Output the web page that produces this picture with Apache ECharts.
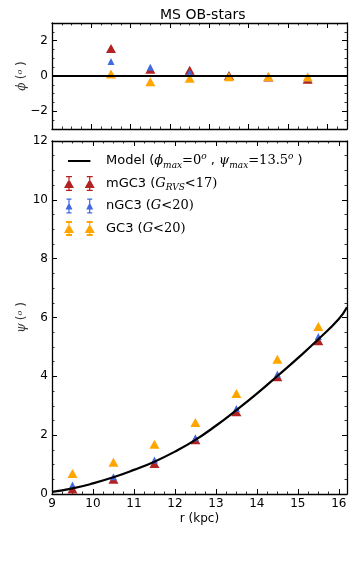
<!DOCTYPE html>
<html lang="en">
<head>
  <meta charset="UTF-8">
  <title>MS OB-stars</title>
  <script src="https://cdn.jsdelivr.net/npm/echarts@6/dist/echarts.min.js"></script>
</head>
<body style="margin:0;background:#fff;">
  <div id="main" style="width:354px;height:567px;"></div>
<script>
  // top panel: phi vs r
  var rPhi = [10.5, 11.5, 12.5, 13.5, 14.5, 15.5];
  var phiM = [1.55, 0.38, 0.33, 0.03, -0.05, -0.18];
  var phiN = [0.82, 0.50, 0.20, 0.02, -0.03, -0.12];
  var phiG = [0.11, -0.32, -0.13, -0.04, -0.03, -0.06];
  var modelPhiR = [9, 16.5];
  var modelPhi = [0, 0];

  // bottom panel: psi vs r
  var rPsi = [9.5, 10.5, 11.5, 12.5, 13.5, 14.5, 15.5];
  var psiM = [0.17, 0.50, 1.04, 1.84, 2.80, 3.99, 5.21];
  var psiN = [0.31, 0.59, 1.16, 1.91, 2.91, 4.08, 5.35];
  var psiG = [0.70, 1.08, 1.69, 2.43, 3.42, 4.58, 5.69];
  var modelR = [9, 9.5, 10, 10.5, 11, 11.5, 12, 12.5, 13, 13.5, 14, 14.5, 15, 15.5, 16, 16.2];
  var modelPsi = [0.07, 0.19, 0.36, 0.57, 0.82, 1.10, 1.44, 1.84, 2.32, 2.85, 3.41, 4.01, 4.62, 5.26, 5.95, 6.35];

  var RED = '#b22222', BLUE = '#4169e1', ORANGE = '#ffa500';

  var myChart = echarts.init(document.getElementById('main'));

  function pairs(xs, ys) {
    return xs.map(function (x, i) { return [x, ys[i]]; });
  }
  function steps(a, b, s) {
    var out = [];
    for (var v = a; v <= b + 1e-9; v += s) out.push(+v.toFixed(4));
    return out;
  }

  // one axis with long ticks (+ labels) and one overlay with short minor ticks
  function axes(grid, min, max, major, minor, pos, labels, extra) {
    var base = { type: 'value', gridIndex: grid, min: min, max: max, position: pos, splitLine: { show: false } };
    var main = Object.assign({}, base, {
      axisLine: { show: true, onZero: false, lineStyle: { color: '#000', width: 1.3 } },
      axisTick: { show: true, inside: true, length: 5, customValues: major, lineStyle: { color: '#000', width: 1 } },
      axisLabel: labels ? {
        show: true, customValues: major, color: '#000', fontSize: 12, fontFamily: 'DejaVu Sans', margin: 4,
        formatter: function (v) { return String(v).replace('-', '\u2212'); }
      } : { show: false }
    }, extra || {});
    var mnr = Object.assign({}, base, {
      axisLine: { show: false, onZero: false },
      axisTick: { show: true, inside: true, length: 2.5, customValues: minor, lineStyle: { color: '#000', width: 0.8 } },
      axisLabel: { show: false }
    });
    return [main, mnr];
  }

  var mathRich = {
    i: { fontFamily: 'DejaVu Serif', fontStyle: 'italic', fontSize: 12, color: '#333' },
    s: { fontFamily: 'DejaVu Serif', fontStyle: 'italic', fontSize: 8, color: '#333', verticalAlign: 'top' },
    n: { fontFamily: 'DejaVu Sans', fontSize: 12, color: '#333' }
  };

  // legend icons: anchors at (0,0) and (37,15) keep the scale 1:1
  var ANCH = 'M0 0 L0 0 Z M37 15 L37 15 Z ';
  function rect(x1, y1, x2, y2) {
    return 'M' + x1 + ' ' + y1 + ' H' + x2 + ' V' + y2 + ' H' + x1 + ' Z ';
  }
  function tri(cx, w, h) {
    return 'M' + (cx - w / 2) + ' ' + (7.5 + h / 2) + ' L' + cx + ' ' + (7.5 - h / 2) + ' L' + (cx + w / 2) + ' ' + (7.5 + h / 2) + ' Z ';
  }
  function errIcon(w, h, cap, capT) {
    var p = ANCH;
    [5, 25.7].forEach(function (cx) {
      p += rect(cx - 0.6, 0.5, cx + 0.6, 14.5);
      p += rect(cx - cap / 2, 0, cx + cap / 2, capT);
      p += rect(cx - cap / 2, 15 - capT, cx + cap / 2, 15);
      p += tri(cx, w, h);
    });
    return 'path://' + p;
  }

  var legendText = {
    Model: '{n|Model (}{i|\u03d5}{sb|max}{m|=0}{sp|o}{n| , }{i|\u03c8}{sb|max}{m|=13.5}{sp|o}{n| )}',
    mGC3: '{n|mGC3 (}{i|G}{sb|RVS}{m|<17)}',
    nGC3: '{n|nGC3 (}{i|G}{m|<20)}',
    GC3: '{n|GC3 (}{i|G}{m|<20)}'
  };

  var xAxes = [].concat(
    axes(0, 9, 16.5, steps(9, 16, 1), steps(9, 16.5, 0.25), 'bottom', false),
    axes(0, 9, 16.5, steps(9, 16, 1), steps(9, 16.5, 0.25), 'top', false),
    axes(1, 9, 16.2, steps(9, 16, 1), steps(9, 16, 0.25), 'bottom', true, {
      name: 'r (kpc)', nameLocation: 'middle', nameGap: 19, nameMoveOverlap: false,
      nameTextStyle: { color: '#000', fontSize: 12, fontFamily: 'DejaVu Sans' }
    }),
    axes(1, 9, 16.2, steps(9, 16, 1), steps(9, 16, 0.25), 'top', false)
  );
  var yAxes = [].concat(
    axes(0, -3, 3, [-2, 0, 2], steps(-3, 3, 0.5), 'left', true, {
      name: '{i|\u03d5} {n|(}{s|o}{n| )}', nameLocation: 'middle', nameGap: 24, nameRotate: 90, nameMoveOverlap: false,
      nameTextStyle: { rich: mathRich }
    }),
    axes(0, -3, 3, [-2, 0, 2], steps(-3, 3, 0.5), 'right', false),
    axes(1, 0, 12, steps(0, 12, 2), steps(0, 12, 0.5), 'left', true, {
      name: '{i|\u03c8} {n|(}{s|o}{n| )}', nameLocation: 'middle', nameGap: 24, nameRotate: 90, nameMoveOverlap: false,
      nameTextStyle: { rich: mathRich }
    }),
    axes(1, 0, 12, steps(0, 12, 2), steps(0, 12, 0.5), 'right', false)
  );

  function scat(name, xs, ys, color, size, top) {
    return {
      name: name, type: 'scatter', xAxisIndex: top ? 0 : 4, yAxisIndex: top ? 0 : 4,
      symbol: 'triangle', symbolSize: size, itemStyle: { color: color, opacity: 1 },
      data: pairs(xs, ys), silent: true
    };
  }

  option = {
    backgroundColor: '#fff',
    animation: false,
    title: {
      text: 'MS OB-stars', left: 155, top: 3,
      textStyle: { color: '#000', fontSize: 14, fontWeight: 'normal', fontFamily: 'DejaVu Sans' }
    },
    grid: [
      { left: 52, right: 7, top: 23, height: 106 },
      { left: 52, right: 7, top: 141, bottom: 73 }
    ],
    legend: {
      orient: 'vertical', left: 64, top: 152, padding: 0, itemGap: 4.5,
      itemWidth: 37, itemHeight: 15, selectedMode: false,
      data: [
        { name: 'Model', icon: 'path://' + ANCH + rect(4, 6.5, 26.4, 8.5) },
        { name: 'mGC3', icon: errIcon(10, 9, 6, 1.2) },
        { name: 'nGC3', icon: errIcon(7, 7, 5, 1.2) },
        { name: 'GC3', icon: errIcon(10, 9, 6, 2) }
      ],
      formatter: function (name) { return legendText[name]; },
      textStyle: {
        color: '#000', fontSize: 13, lineHeight: 18, fontFamily: 'DejaVu Sans',
        rich: {
          n: { fontFamily: 'DejaVu Sans', fontSize: 13, lineHeight: 18, color: '#000' },
          m: { fontFamily: 'DejaVu Serif', fontSize: 13, lineHeight: 18, color: '#000' },
          i: { fontFamily: 'DejaVu Serif', fontStyle: 'italic', fontSize: 13, lineHeight: 18, color: '#000' },
          sb: { fontFamily: 'DejaVu Serif', fontStyle: 'italic', fontSize: 9, lineHeight: 9, verticalAlign: 'bottom', color: '#000' },
          sp: { fontFamily: 'DejaVu Serif', fontStyle: 'italic', fontSize: 9, lineHeight: 9, verticalAlign: 'top', color: '#000' }
        }
      }
    },
    xAxis: xAxes,
    yAxis: yAxes,
    series: [
      {
        name: 'phi0', type: 'line', xAxisIndex: 0, yAxisIndex: 0, data: pairs(modelPhiR, modelPhi),
        symbol: 'none', lineStyle: { color: '#000', width: 2 }, silent: true
      },
      scat('mGC3', rPhi, phiM, RED, [10, 9], true),
      scat('nGC3', rPhi, phiN, BLUE, [7, 7], true),
      scat('GC3', rPhi, phiG, ORANGE, [10, 9], true),
      {
        name: 'Model', type: 'line', xAxisIndex: 4, yAxisIndex: 4, data: pairs(modelR, modelPsi),
        smooth: true, symbol: 'none', itemStyle: { color: '#000' }, lineStyle: { color: '#000', width: 2.2 }, silent: true
      },
      scat('mGC3', rPsi, psiM, RED, [10, 9], false),
      scat('nGC3', rPsi, psiN, BLUE, [7, 7], false),
      scat('GC3', rPsi, psiG, ORANGE, [10, 9], false)
    ]
  };

  myChart.setOption(option);
</script>
</body>
</html>
